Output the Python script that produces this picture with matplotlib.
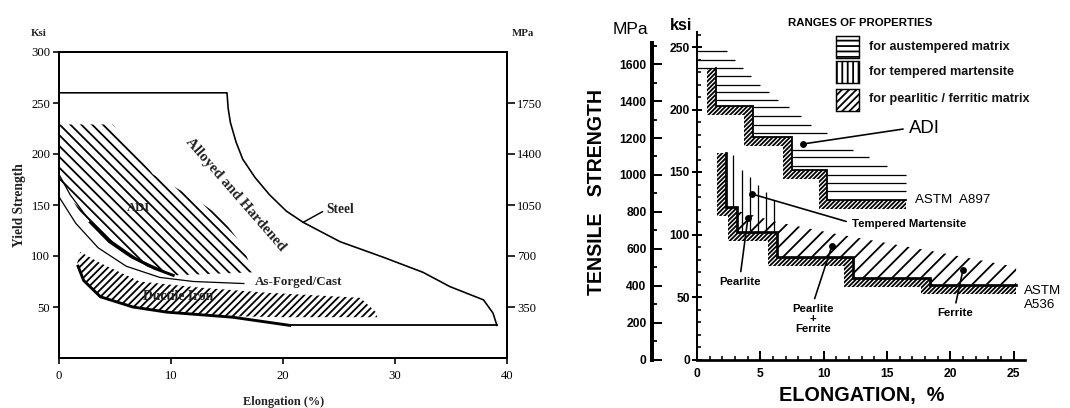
import numpy as np
import matplotlib.pyplot as plt
from matplotlib.patches import Polygon, Rectangle
from matplotlib.ticker import MultipleLocator

# ---------- left chart: yield strength (ksi) vs elongation (%) ----------
steel_el = [0, 15, 15.1, 15.3, 15.8, 16.4, 17.5, 18.8, 20.3, 21.8, 25.1, 28.9, 32.5, 34.9, 37.9, 38.75, 39.1]
steel_ksi = [260, 260, 245, 231, 212, 195, 177, 160, 144, 133, 114, 99, 84, 70, 57, 44, 32]
floor_el = [39.1, 20.6, 15.5, 9.6, 6.6, 3.7, 2.2, 1.7]
floor_ksi = [32, 32, 40, 45, 50, 60, 76, 90]

adi_el = [0, 4.8, 8.4, 12.3, 14.4, 16.4, 17.3, 10.2, 8, 6, 4, 2, 0]
adi_ksi = [229, 229, 180, 155, 139, 110, 84, 81, 89, 101, 118, 141, 175]
adi_edge_el = [2.8, 4.5, 6.5, 8.5, 10.2]
adi_edge_ksi = [133, 114, 99, 88, 81]
adi_inner_el = [0, 1, 2.5, 4.5, 7, 10.2]
adi_inner_ksi = [180, 160, 138, 116, 97, 81]
adi_outer_el = [0, 1.5, 3.5, 6, 9, 12, 16.5]
adi_outer_ksi = [158, 132, 108, 90, 79, 75, 73]

di_top_el = [1.6, 1.9, 3.7, 7.2, 12.6, 18.6, 26.9, 28.4]
di_top_ksi = [92, 104, 93, 75, 69, 64, 59, 44]
di_low_el = [28.4, 24, 20, 15.5, 9.6, 6.6, 3.7, 2.2, 1.6]
di_low_ksi = [40, 40, 40, 41, 45, 50, 60, 76, 92]

ksi_ticks_left = [50, 100, 150, 200, 250, 300]
mpa_ticks_left = [350, 700, 1050, 1400, 1750]
el_ticks_left = [0, 10, 20, 30, 40]

# ---------- right chart: tensile strength vs elongation ----------
a897_el = [1.5, 4.4, 7.5, 10.3, 16.5]
a897_ksi = [233, 203, 178, 152, 128]
a536_el = [2.3, 3.15, 6.3, 12.3, 18.4, 25.2]
a536_ksi = [165, 122, 102, 82, 65, 60]
adi_line_ksi = [247, 240, 233, 227, 220, 214, 208, 202, 195, 188, 181, 168, 162, 155, 148, 141, 135]
adi_line_end = [2.4, 3.0, 3.6, 4.3, 5.0, 5.7, 6.4, 7.3, 8.2, 9.0, 10.3, 12.3, 13.6, 15.0, 16.5, 16.5, 16.5]
tm_line_el = [2.85, 3.55, 4.2, 4.8, 5.45, 6.07]
tm_line_top = [164, 152, 146, 140, 134, 128]
pf_top_el = [3.15, 6.3, 10.7, 18.4, 25.2]
pf_top_ksi = [119, 110, 101, 87, 74]
point_names = ["ADI", "Tempered Martensite", "Pearlite", "Pearlite\n+\nFerrite", "Ferrite"]
point_el = [8.36, 4.34, 4.02, 10.65, 21.0]
point_ksi = [172.4, 132.4, 113.2, 90.8, 71.6]
legend_names = ["for austempered matrix", "for tempered martensite", "for pearlitic / ferritic matrix"]
legend_hatch = ["----", "||||", "//////"]

W, H, DPI = 1070, 408, 130
plt.rcParams['font.family'] = ['Liberation Sans', 'DejaVu Sans']
fig = plt.figure(figsize=(W / DPI, H / DPI), dpi=DPI)
SERIF = 'Liberation Serif'


def ftext(x, y, s, **kw):
    fig.text(x / W, 1 - y / H, s, **kw)


# ======================= left chart =======================
ax1 = fig.add_axes([59 / W, 50 / H, 448 / W, 306 / H])
ax1.set_xlim(0, 40)
ax1.set_ylim(0, 300)
for sp in ax1.spines.values():
    sp.set_linewidth(1.1)

ax1.plot(steel_el, steel_ksi, color='black', lw=0.9)
ax1.plot(floor_el[:2], floor_ksi[:2], color='black', lw=1.0)
ax1.add_patch(Polygon(list(zip(adi_el, adi_ksi)), closed=True, fill=False,
                      lw=0, hatch='\\\\\\\\', edgecolor='black'))
ax1.plot(adi_edge_el, adi_edge_ksi, color='black', lw=1.6)
ax1.plot(adi_inner_el, adi_inner_ksi, color='black', lw=0.7)
ax1.plot(adi_outer_el, adi_outer_ksi, color='black', lw=0.7)
di_poly = list(zip(di_top_el, di_top_ksi)) + list(zip(di_low_el, di_low_ksi))
ax1.add_patch(Polygon(di_poly, closed=True, fill=False, lw=0, hatch='//////',
                      edgecolor='black'))
ax1.plot(floor_el[1:], floor_ksi[1:], color='black', lw=1.6)

left_txt = dict(fontfamily=SERIF, fontweight='bold', color='#222222')
ax1.text(15.8, 160, "Alloyed and Hardened", rotation=-49, rotation_mode='anchor',
         ha='center', va='center', fontsize=8.3, **left_txt)
ax1.annotate("Steel", xy=(steel_el[9], steel_ksi[9]), xytext=(25.1, 145.5),
             ha='center', va='center', fontsize=7.5,
             arrowprops=dict(arrowstyle='-', lw=0.8, color='black', relpos=(0, 0.5),
                             shrinkA=0, shrinkB=0), **left_txt)
ax1.text(7.1, 147.5, "ADI", ha='center', va='center', fontsize=7, **left_txt)
ax1.text(21.4, 75, "As-Forged/Cast", ha='center', va='center', fontsize=7.2, **left_txt)
ax1.text(10.6, 60, "Ductile Iron", ha='center', va='center', fontsize=7.5, **left_txt)

ax1.set_yticks(ksi_ticks_left, [str(v) for v in ksi_ticks_left], fontfamily=SERIF,
               fontsize=7)
ax1.set_xticks(el_ticks_left, [str(v) for v in el_ticks_left], fontfamily=SERIF,
               fontsize=7)
ax1.tick_params(axis='y', direction='out', length=3.3, width=0.9, pad=1.5)
ax1.tick_params(axis='x', direction='out', length=3.3, width=0.9, pad=3.5)

ax1r = ax1.twinx()
ax1r.set_ylim(0, 2100)
ax1r.set_yticks(mpa_ticks_left, [str(v) for v in mpa_ticks_left], fontfamily=SERIF,
                fontsize=7)
ax1r.tick_params(axis='y', direction='out', length=4.4, width=0.9, pad=1.2)
for sp in ax1r.spines.values():
    sp.set_linewidth(1.1)

ftext(39, 33, "Ksi", ha='center', va='center', fontsize=6, **left_txt)
ftext(523, 33, "MPa", ha='center', va='center', fontsize=6, **left_txt)
ftext(20, 205, "Yield Strength", rotation=90, ha='center', va='center', fontsize=7.5,
      **left_txt)
ftext(284, 402, "Elongation (%)", ha='center', va='center', fontsize=6.8, **left_txt)

# ======================= right chart =======================
ax = fig.add_axes([697 / W, 48.5 / H, 328 / W, 327.5 / H])
ax.set_xlim(0, 25.9)
ax.set_ylim(0, 262)
ax.spines['top'].set_visible(False)
ax.spines['right'].set_visible(False)
ax.spines['left'].set_linewidth(1.1)
ax.spines['bottom'].set_linewidth(1.5)
ax.patch.set_alpha(0)


def stair(el, ksi):
    xs, ys = [el[0]], [ksi[0]]
    for i in range(1, len(ksi)):
        xs += [el[i - 1], el[i]]
        ys += [ksi[i], ksi[i]]
    return np.array(xs), np.array(ys)


def band(xs, ys, w, h):
    top = list(zip(xs, ys))
    low = [(x - w, y - h) for x, y in zip(xs, ys)]
    return [(xs[0] - w, ys[0])] + top + [(xs[-1], ys[-1] - h)] + low[::-1]


s1x, s1y = stair(a897_el, a897_ksi)
s2x, s2y = stair(a536_el, a536_ksi)

# pearlitic / ferritic range
pf_poly = list(zip(pf_top_el, pf_top_ksi)) + list(zip(s2x[3:], s2y[3:]))[::-1]
ax.add_patch(Polygon(pf_poly, closed=True, fill=False, lw=0, hatch='///',
                     edgecolor='black', zorder=1))

# austempered matrix: horizontal lines from the A897 boundary
starts = []
for lvl in adi_line_ksi:
    n = sum(1 for k in a897_ksi[:-1] if k > lvl)
    starts.append(([0] + a897_el)[n])
ax.hlines(adi_line_ksi, starts, adi_line_end, color='black', lw=0.7, zorder=2)

# tempered martensite: vertical lines down to the A536 boundary
bottoms = []
for e in tm_line_el:
    i = np.searchsorted(a536_el, e, side='right')
    bottoms.append(a536_ksi[i])
ax.vlines(tm_line_el, bottoms, tm_line_top, color='black', lw=0.7, zorder=2)

with plt.rc_context({'hatch.linewidth': 1.0}):
    for sx, sy, lw in [(s1x, s1y, 1.0), (s2x, s2y, 1.5)]:
        p = Polygon(band(sx, sy, 0.7, 7.2), closed=True, fill=False, lw=0,
                    hatch='/' * 10, edgecolor='black', zorder=3)
        ax.add_patch(p)
        ax.plot(sx, sy, color='black', lw=lw, zorder=4, solid_joinstyle='miter')

ax.plot(point_el, point_ksi, 'o', color='black', ms=2.8, zorder=5, clip_on=False)
label_xy = [(16.7, 185), (12.2, 108.4), (3.4, 62), (9.15, 32.4), (20.35, 37)]
label_align = [('left', 'center', (0, 0.5)), ('left', 'center', (0, 0.6)),
               ('center', 'center', (0.5, 1)), ('center', 'center', (0.5, 1)),
               ('center', 'center', (0.5, 1))]
label_style = [(10.3, 'normal'), (6.3, 'bold'), (6.3, 'bold'), (6.3, 'bold'), (6.3, 'bold')]
for name, x0, y0, (tx, ty), (ha, va, rp), (fs, fw) in zip(point_names, point_el, point_ksi,
                                                           label_xy, label_align, label_style):
    ax.annotate(name, xy=(x0, y0), xytext=(tx, ty), ha=ha, va=va, fontsize=fs,
                fontweight=fw, linespacing=1.0, annotation_clip=False,
                arrowprops=dict(arrowstyle='-', lw=0.9, color='black', relpos=rp,
                                shrinkA=1, shrinkB=0))

ax.text(17.2, 127.6, "ASTM  A897", ha='left', va='center', fontsize=7.4)
ax.text(25.8, 49, "ASTM\nA536", ha='left', va='center', fontsize=7.4, linespacing=1.25)

# legend
ax.text(7.18, 269, "RANGES OF PROPERTIES", ha='left', va='center', fontsize=6.3,
        fontweight='bold')
box_y = [241.2, 221.2, 198.8]
text_y = [250, 230, 208.4]
for name, hat, by, ty in zip(legend_names, legend_hatch, box_y, text_y):
    ax.add_patch(Rectangle((10.96, by), 1.82, 18, fill=False, hatch=hat, lw=0.8,
                           edgecolor='black', clip_on=False))
    ax.text(13.56, ty, name, ha='left', va='center', fontsize=7, fontweight='bold',
            color='#111111')

ax.set_xticks(range(0, 26, 5))
ax.xaxis.set_minor_locator(MultipleLocator(1))
ax.set_yticks(range(0, 251, 50))
ax.yaxis.set_minor_locator(MultipleLocator(10))
ax.tick_params(axis='x', which='major', direction='in', length=5, width=1.1, pad=4.5,
               labelsize=6.7)
ax.tick_params(axis='x', which='minor', direction='in', length=2.2, width=0.9)
ax.tick_params(axis='y', which='major', direction='inout', length=5, width=1.1, pad=1.4,
               labelsize=6.7)
ax.tick_params(axis='y', which='minor', direction='in', length=2, width=0.9)
for lab in ax.get_xticklabels() + ax.get_yticklabels():
    lab.set_fontweight('bold')

# MPa scale
axm = fig.add_axes([652 / W, 48.5 / H, 0.001, 316.5 / H])
axm.set_ylim(0, 1715)
axm.set_xticks([])
for k in ['top', 'right', 'bottom']:
    axm.spines[k].set_visible(False)
axm.spines['left'].set_linewidth(2.2)
axm.patch.set_alpha(0)
axm.set_yticks(range(0, 1601, 200))
axm.yaxis.set_minor_locator(MultipleLocator(100))
axm.tick_params(axis='y', which='major', direction='in', length=5.5, width=1.1, pad=3,
                labelsize=6.7)
axm.tick_params(axis='y', which='minor', direction='in', length=2.8, width=1.0)
for lab in axm.get_yticklabels():
    lab.set_fontweight('bold')

ftext(630, 30, "MPa", ha='center', va='center', fontsize=9.6)
ftext(681, 25, "ksi", ha='center', va='center', fontsize=9, fontweight='bold')
ftext(596, 192, "TENSILE   STRENGTH", rotation=90, ha='center', va='center',
      fontsize=10.8, fontweight='bold')
ftext(862, 396, "ELONGATION,  %", ha='center', va='center', fontsize=11,
      fontweight='bold')

fig.savefig('out.png', dpi=DPI, facecolor='white')
